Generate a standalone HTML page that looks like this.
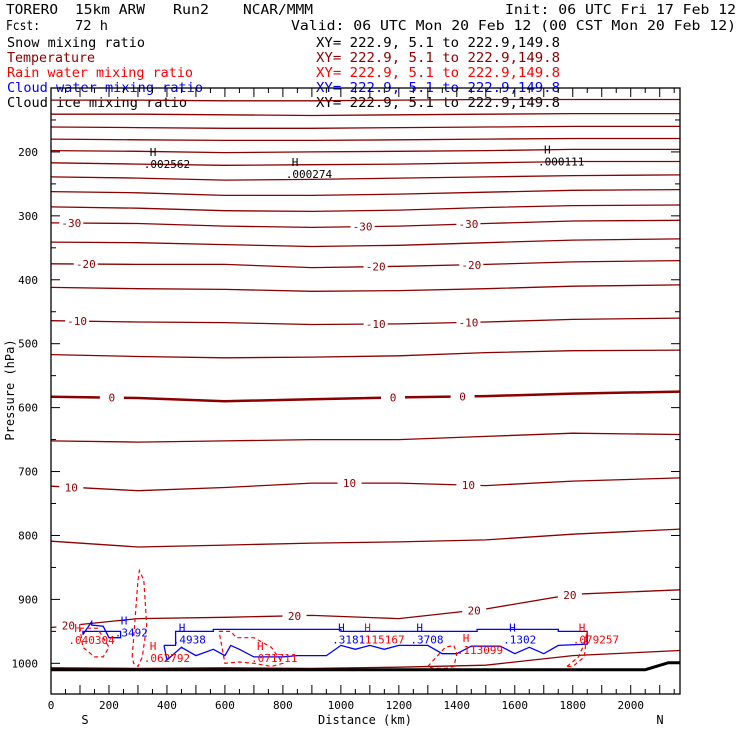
<!DOCTYPE html>
<html><head><meta charset="utf-8"><style>
body{margin:0;background:#fff}
svg{display:block;font-family:"DejaVu Sans Mono","Liberation Mono",monospace}
</style></head><body>
<svg id="c" width="740" height="740" viewBox="0 0 740 740" xmlns="http://www.w3.org/2000/svg">
<g font-size="13">
<text x="6" y="14" fill="#000" textLength="52" lengthAdjust="spacingAndGlyphs">TORERO</text>
<text x="75" y="14" fill="#000" textLength="70" lengthAdjust="spacingAndGlyphs">15km ARW</text>
<text x="173" y="14" fill="#000" textLength="36" lengthAdjust="spacingAndGlyphs">Run2</text>
<text x="243" y="14" fill="#000" textLength="70" lengthAdjust="spacingAndGlyphs">NCAR/MMM</text>
<text x="505" y="14" fill="#000" textLength="231" lengthAdjust="spacingAndGlyphs">Init: 06 UTC Fri 17 Feb 12</text>
<text x="6" y="30" fill="#000" textLength="34" lengthAdjust="spacingAndGlyphs">Fcst:</text>
<text x="75" y="30" fill="#000" textLength="33" lengthAdjust="spacingAndGlyphs">72 h</text>
<text x="291" y="30" fill="#000" textLength="445" lengthAdjust="spacingAndGlyphs">Valid: 06 UTC Mon 20 Feb 12 (00 CST Mon 20 Feb 12)</text>
<text x="7" y="47" fill="#000" textLength="138" lengthAdjust="spacingAndGlyphs">Snow mixing ratio</text>
<text x="7" y="62" fill="#8b0000" textLength="88" lengthAdjust="spacingAndGlyphs">Temperature</text>
<text x="7" y="77" fill="#ff0000" textLength="186" lengthAdjust="spacingAndGlyphs">Rain water mixing ratio</text>
<text x="7" y="92" fill="#0000ff" textLength="196" lengthAdjust="spacingAndGlyphs">Cloud water mixing ratio</text>
<text x="7" y="107" fill="#000" textLength="180" lengthAdjust="spacingAndGlyphs">Cloud ice mixing ratio</text>
<text x="316" y="47" fill="#000" textLength="244" lengthAdjust="spacingAndGlyphs">XY= 222.9,  5.1 to 222.9,149.8</text>
<text x="316" y="62" fill="#8b0000" textLength="244" lengthAdjust="spacingAndGlyphs">XY= 222.9,  5.1 to 222.9,149.8</text>
<text x="316" y="77" fill="#ff0000" textLength="244" lengthAdjust="spacingAndGlyphs">XY= 222.9,  5.1 to 222.9,149.8</text>
<text x="316" y="92" fill="#0000ff" textLength="244" lengthAdjust="spacingAndGlyphs">XY= 222.9,  5.1 to 222.9,149.8</text>
<text x="316" y="107" fill="#000" textLength="244" lengthAdjust="spacingAndGlyphs">XY= 222.9,  5.1 to 222.9,149.8</text>
</g>
<g id="plot"></g>
</svg>
<script>
const xTicks=[0,200,400,600,800,1000,1200,1400,1600,1800,2000];
const pTicks=[200,300,400,500,600,700,800,900,1000];
const knotsKm=[0,300,600,900,1200,1500,1800,2170];
const tempLevels=[-75,-70,-65,-60,-55,-50,-45,-40,-35,-30,-25,-20,-15,-10,-5,0,5,10,15,20,25];
const tempP=[
[119,119,120,120,119,118,118,118],
[141,141,142,143,142,141,140,140],
[161,162,163,163,162,161,160,160],
[180,181,182,182,181,180,179,179],
[198,199,201,200,199,198,196,196],
[217,219,221,220,219,217,215,215],
[239,241,244,243,241,239,237,236],
[262,264,268,268,266,263,260,259],
[286,288,292,293,291,287,284,283],
[311,312,316,318,316,312,308,307],
[341,342,345,348,346,342,338,336],
[375,376,376,381,379,376,372,370],
[412,414,415,418,417,414,410,408],
[464,466,467,470,469,466,462,460],
[517,520,522,521,519,514,511,510],
[583,585,590,587,584,582,578,575],
[652,654,652,650,650,645,640,642],
[723,730,725,718,718,722,715,710],
[809,818,815,812,810,807,798,790],
[944,930,928,925,930,915,892,885],
[1007,1008,1007,1008,1006,1003,988,980]];
const tempLabels=[{t:-30,km:[70,1075,1440]},{t:-20,km:[120,1120,1450]},{t:-10,km:[90,1120,1440]},{t:0,km:[210,1180,1420]},{t:10,km:[70,1030,1440]},{t:20,km:[60,840,1460,1790]}];
const groundKm=[0,2050,2130,2170];
const groundP=[1010,1010,999,999];
const cloudKm=[390,430,430,560,560,1000,1000,1470,1470,1750,1750,1850,1850,1750,1700,1650,1600,1550,1500,1450,1400,1350,1300,1200,1150,1100,1050,1000,950,900,850,800,700,650,620,600,560,500,450,400,390];
const cloudP=[972,972,950,950,947,947,950,950,947,947,950,950,970,972,985,975,985,973,973,973,985,985,972,972,978,972,978,972,988,988,988,990,990,978,972,988,978,988,975,995,972];
const cloud2Km=[110,140,140,180,200,240,240,110,110];
const cloud2P=[955,935,940,942,960,960,950,950,955];
const rainKm=[280,300,305,320,330,315,300,285,280];
const rainP=[990,870,855,870,940,990,1005,1000,990];
const rain2Km=[100,160,200,180,150,110,100];
const rain2P=[945,945,975,990,990,975,945];
const rain3Km=[580,620,640,700,760,800,760,700,650,600,580];
const rain3P=[950,950,960,960,975,1000,1005,1000,998,1000,950];
const rain4Km=[1300,1330,1360,1390,1400,1390,1360,1320,1300];
const rain4P=[1005,990,975,972,985,1005,1008,1008,1005];
const rain5Km=[1780,1820,1840,1850,1840,1800,1780];
const rain5P=[1005,990,970,950,990,1005,1005];
const maxLabels=[
{km:320,p:222,c:'#000',v:'.002562'},{km:810,p:238,c:'#000',v:'.000274'},{km:1680,p:218,c:'#000',v:'.000111'},
{km:60,p:967,c:'#ff0000',v:'.040304'},{km:220,p:955,c:'#0000ff',v:'.3492'},{km:420,p:966,c:'#0000ff',v:'.4938'},
{km:320,p:995,c:'#ff0000',v:'.062792'},{km:690,p:995,c:'#ff0000',v:'.071711'},{km:970,p:966,c:'#0000ff',v:'.3181'},
{km:1060,p:966,c:'#ff0000',v:'.115167'},{km:1240,p:966,c:'#0000ff',v:'.3708'},{km:1400,p:982,c:'#ff0000',v:'.113099'},
{km:1560,p:966,c:'#0000ff',v:'.1302'},{km:1800,p:966,c:'#ff0000',v:'.079257'}];
const W=740,L=51,R=680,T=88,B=694;
const kmMin=0,kmMax=2170,pMin=100,pMax=1048;
const X=km=>L+(km-kmMin)/(kmMax-kmMin)*(R-L);
const Y=p=>T+(p-pMin)/(pMax-pMin)*(B-T);
const NS='http://www.w3.org/2000/svg';
const g=document.getElementById('plot');
function mk(tag,attrs,parent){const e=document.createElementNS(NS,tag);for(const k in attrs)e.setAttribute(k,attrs[k]);(parent||g).appendChild(e);return e;}
function pts(kms,ps){return kms.map((k,i)=>X(k).toFixed(1)+','+Y(ps[i]).toFixed(1)).join(' ');}
function interp(kms,ps,km){for(let i=0;i<kms.length-1;i++){if(km<=kms[i+1]){const f=(km-kms[i])/(kms[i+1]-kms[i]);return ps[i]+f*(ps[i+1]-ps[i]);}}return ps[ps.length-1];}
tempLevels.forEach((t,i)=>{
 const e=mk('polyline',{points:pts(knotsKm,tempP[i]),fill:'none',stroke:'#8b0000','stroke-width':t===0?2.5:1.3});
 
 
});
tempLabels.forEach(lb=>{
 const idx=tempLevels.indexOf(lb.t);
 lb.km.forEach(km=>{
  const y=Y(interp(knotsKm,tempP[idx],km));
  const r=mk('rect',{x:X(km)-12,y:y-6,width:24,height:12,fill:'#fff'});
  
  
  const tx=mk('text',{x:X(km),y:y+4,'text-anchor':'middle','font-size':11,fill:'#8b0000'});
  
  
  tx.textContent=lb.t;
 });
});
[[cloudKm,cloudP],[cloud2Km,cloud2P]].forEach(([k,p])=>{
 const e=mk('polyline',{points:pts(k,p),fill:'none',stroke:'#0000ff','stroke-width':1.3});
 
 
});
[[rainKm,rainP],[rain2Km,rain2P],[rain3Km,rain3P],[rain4Km,rain4P],[rain5Km,rain5P]].forEach(([k,p])=>{
 const e=mk('polyline',{points:pts(k,p),fill:'none',stroke:'#ff0000','stroke-width':1.2,'stroke-dasharray':'4,3'});
 
 
});
const gr=mk('polyline',{points:pts(groundKm,groundP),fill:'none',stroke:'#000','stroke-width':3});


maxLabels.forEach(m=>{
 const h=mk('text',{x:X(m.km)+6,y:Y(m.p)-10,'font-size':11,fill:m.c});
 
 
 h.textContent='H';
 const v=mk('text',{x:X(m.km),y:Y(m.p)+2,'font-size':11,fill:m.c});
 
 
 v.textContent=m.v;
});
const fr=mk('rect',{x:L,y:T,width:R-L,height:B-T,fill:'none',stroke:'#000','stroke-width':1.3});


for(let km=0;km<=kmMax;km+=50){
 const big=km%100===0;
 const a=mk('line',{x1:X(km),x2:X(km),y1:B,y2:B-(big?9:5),stroke:'#000'});
 
 
 const b=mk('line',{x1:X(km),x2:X(km),y1:T,y2:T+(big?9:5),stroke:'#000'});
 
 
}
xTicks.forEach(km=>{
 const t=mk('text',{x:X(km),y:709,'text-anchor':'middle','font-size':11,fill:'#000'});
 
 
 t.textContent=km;
});
for(let p=100;p<=1048;p+=50){
 const big=p%100===0;
 const a=mk('line',{x1:L,x2:L+(big?9:5),y1:Y(p),y2:Y(p),stroke:'#000'});
 
 
 const b=mk('line',{x1:R,x2:R-(big?9:5),y1:Y(p),y2:Y(p),stroke:'#000'});
 
 
}
pTicks.forEach(p=>{
 const t=mk('text',{x:38,y:Y(p)+4,'text-anchor':'end','font-size':11,fill:'#000'});
 
 
 t.textContent=p;
});
const yt=mk('text',{x:14,y:390,'text-anchor':'middle','font-size':12,fill:'#000',transform:'rotate(-90 14 390)'});


yt.textContent='Pressure (hPa)';
const xt=mk('text',{x:365,y:724,'text-anchor':'middle','font-size':12,fill:'#000'});


xt.textContent='Distance (km)';
const s=mk('text',{x:85,y:724,'text-anchor':'middle','font-size':12,fill:'#000'});


s.textContent='S';
const n=mk('text',{x:660,y:724,'text-anchor':'middle','font-size':12,fill:'#000'});


n.textContent='N';
</script>
</body></html>
